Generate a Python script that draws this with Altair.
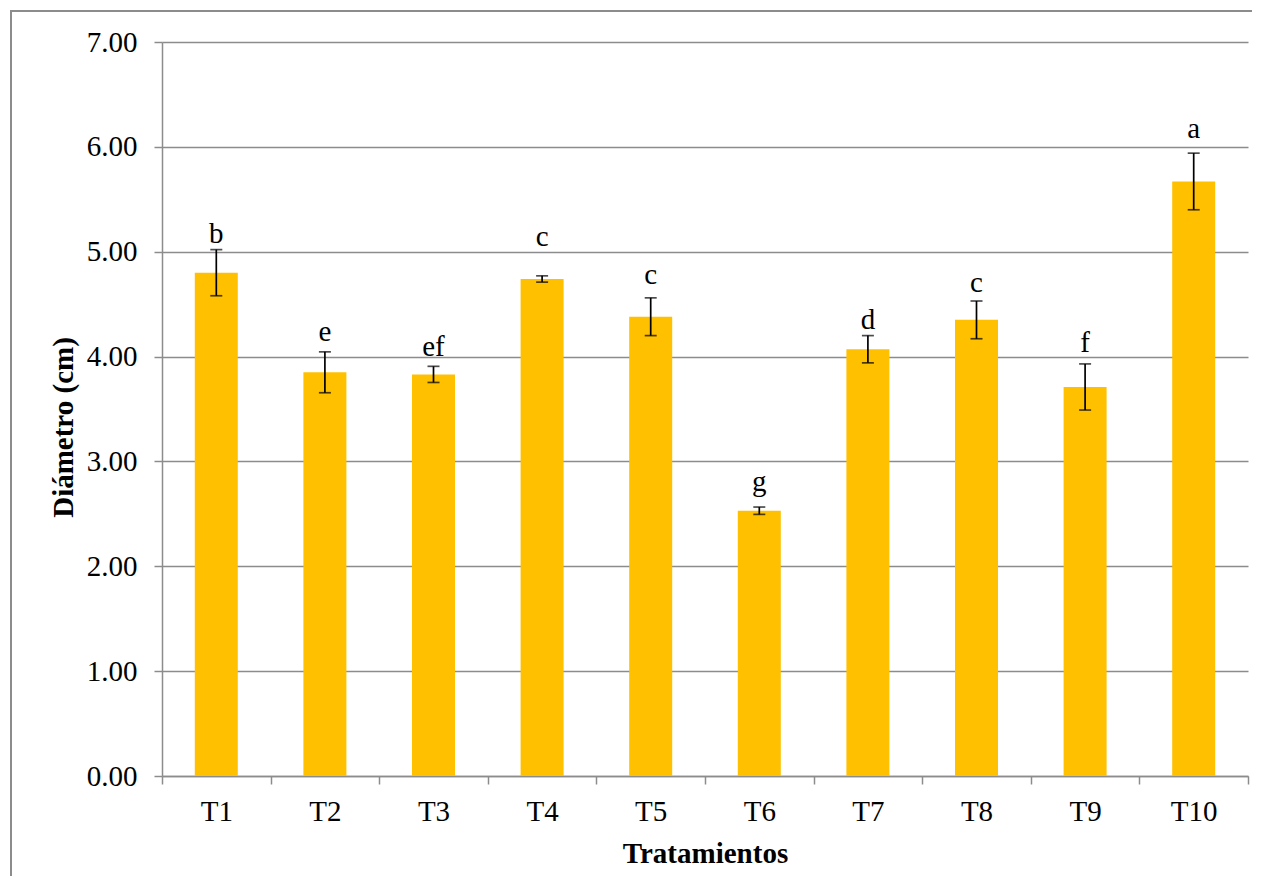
import altair as alt
import pandas as pd

tratamientos = ["T1", "T2", "T3", "T4", "T5", "T6", "T7", "T8", "T9", "T10"]
diametro = [4.80, 3.85, 3.83, 4.74, 4.38, 2.53, 4.07, 4.35, 3.71, 5.67]
error = [0.22, 0.195, 0.077, 0.03, 0.18, 0.035, 0.13, 0.18, 0.22, 0.27]
letras = ["b", "e", "ef", "c", "c", "g", "d", "c", "f", "a"]
letra_y = [5.08, 4.15, 4.01, 5.05, 4.69, 2.72, 4.26, 4.62, 4.04, 6.08]
y_ticks = [0, 1, 2, 3, 4, 5, 6, 7]

df = pd.DataFrame({
    "trat": tratamientos,
    "diam": diametro,
    "lo": [d - e for d, e in zip(diametro, error)],
    "hi": [d + e for d, e in zip(diametro, error)],
    "letra": letras,
    "ly": letra_y,
})

FONT = "Liberation Serif"
GRAY = "#8c8c8c"
W, H = 1086, 734
PAD = {"left": 154, "top": 34, "right": 4, "bottom": 100}

common_axis = dict(
    labelFont=FONT, labelFontSize=29, labelColor="black", labelFontWeight="normal",
    titleFont=FONT, titleFontSize=29, titleFontWeight="bold", titleColor="black",
    domainColor=GRAY, domainWidth=1.5, tickColor=GRAY, tickWidth=1.5,
)

x_enc = alt.X(
    "trat:N",
    sort=tratamientos,
    title="Tratamientos",
    scale=alt.Scale(paddingInner=0, paddingOuter=0),
    axis=alt.Axis(
        labelAngle=0, tickBand="extent", tickSize=8, labelPadding=13,
        grid=False, titleY=86, titleBaseline="alphabetic", **common_axis,
    ),
)

y_axis = alt.Axis(
    values=y_ticks, format=".2f", tickSize=8, labelPadding=17, grid=True,
    gridColor=GRAY, gridWidth=1.3, gridOpacity=1,
    titleAngle=270, titleX=-90, titleY=385, titleAlign="center",
    titleBaseline="alphabetic", **common_axis,
)
y_scale = alt.Scale(domain=[0, 7], nice=False, zero=True)

base = alt.Chart(df).encode(x=x_enc)

bars = base.mark_bar(size=43, color="#FFC000").encode(
    y=alt.Y("diam:Q", scale=y_scale, axis=y_axis, title="Diámetro (cm)")
)
rule = base.mark_rule(color="black", strokeWidth=1.7).encode(
    y=alt.Y("lo:Q", scale=y_scale, axis=y_axis, title="Diámetro (cm)"),
    y2="hi:Q",
)
cap_hi = base.mark_tick(size=12, thickness=1.7, color="black", orient="horizontal").encode(
    y=alt.Y("hi:Q", scale=y_scale, axis=y_axis, title="Diámetro (cm)")
)
cap_lo = base.mark_tick(size=12, thickness=1.7, color="black", orient="horizontal").encode(
    y=alt.Y("lo:Q", scale=y_scale, axis=y_axis, title="Diámetro (cm)")
)
text = base.mark_text(baseline="alphabetic", font=FONT, fontSize=29, color="black").encode(
    y=alt.Y("ly:Q", scale=y_scale, axis=y_axis, title="Diámetro (cm)"),
    text="letra:N",
)

# outer chart-area frame (left and top edges visible in the reference)
frame_top = alt.Chart(df).mark_rule(color=GRAY, strokeWidth=2).encode(
    y=alt.value(-31), y2=alt.value(-31), x=alt.value(-152), x2=alt.value(W + PAD["right"])
)
frame_left = alt.Chart(df).mark_rect(color=GRAY, strokeWidth=0).encode(
    x=alt.value(-152), x2=alt.value(-150), y=alt.value(-32), y2=alt.value(H + PAD["bottom"])
)

chart = alt.layer(frame_top, frame_left, bars, rule, cap_hi, cap_lo, text).properties(
    width=W,
    height=H,
    padding=PAD,
    autosize="none",
    background="white",
).configure_view(
    strokeWidth=0
).configure_axis(
    labelFont=FONT, titleFont=FONT
).configure_text(
    font=FONT
)

chart.save("out.html", embed_options={"renderer": "svg", "actions": False})
